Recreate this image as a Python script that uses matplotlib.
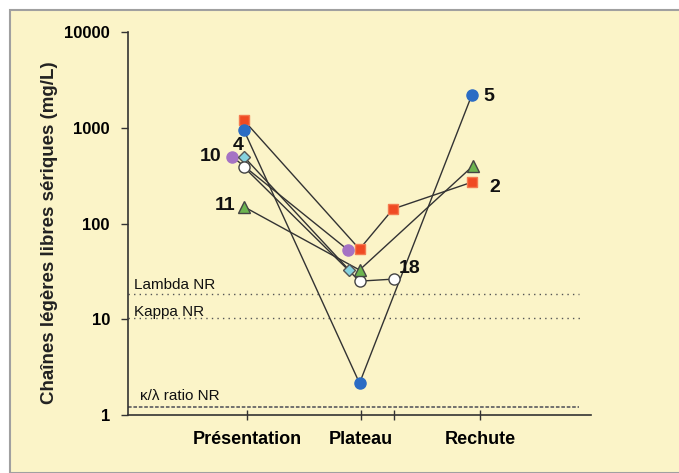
import matplotlib
matplotlib.use("Agg")
from matplotlib import pyplot as plt
from matplotlib.patches import Rectangle

plt.rcParams['font.family'] = ['Liberation Sans', 'DejaVu Sans']

categories = ["Présentation", "Plateau", "Rechute"]
cat_pos = [1.03, 2.01, 3.04]
extra_tick = 2.3

# patients: x positions (time) and free light chain values (mg/L)
p2_x = [1.0, 2.0, 2.29, 2.97]
p2_y = [1200, 54, 142, 270]
p5_x = [1.0, 2.0, 2.97]
p5_y = [950, 2.15, 2200]
p10_x = [0.9, 1.9]
p10_y = [500, 53]
p4_x = [1.0, 1.91]
p4_y = [500, 32.7]
p18_x = [1.0, 2.0, 2.3]
p18_y = [390, 25, 26.3]
p11_x = [1.0, 2.0, 2.98]
p11_y = [150, 32.7, 400]

lambda_nr = 18.4
kappa_nr = 10.3
ratio_nr = 1.21

bg = '#fbf4c8'

fig = plt.figure(figsize=(6.79, 4.73), dpi=100)
fig.patch.set_facecolor('white')
fig.patches.append(Rectangle((10 / 679, 0), 1, 1 - 10 / 473, transform=fig.transFigure,
                             facecolor=bg, edgecolor='#a0a0a0', linewidth=1.5, zorder=-10))

ax = fig.add_axes([0.1885, 0.1226, 0.682, 0.8097])
ax.set_facecolor('none')
ax.set_yscale('log')
ax.set_ylim(1, 10000)
ax.set_xlim(0, 4)

# reference lines
ax.axhline(lambda_nr, xmin=0, xmax=0.975, color='#555555', linestyle=(0, (1, 3)), linewidth=1)
ax.axhline(kappa_nr, xmin=0, xmax=0.98, color='#555555', linestyle=(0, (1, 3)), linewidth=1)
ax.axhline(ratio_nr, xmin=0, xmax=0.975, color='#666666', linestyle=(0, (2, 1)), linewidth=1.3)
ax.text(0.05, 20.5, "Lambda NR", fontsize=11, color='#111111')
ax.text(0.05, 10.8, "Kappa NR", fontsize=11, color='#111111')
ax.text(0.1, 1.45, "κ/λ ratio NR", fontsize=11, color='#111111')

lc = '#333333'
for xs, ys in [(p2_x, p2_y), (p5_x, p5_y), (p10_x, p10_y), (p4_x, p4_y), (p18_x, p18_y), (p11_x, p11_y)]:
    ax.plot(xs, ys, color=lc, linewidth=1, zorder=2)

ms = 8
ax.plot(p2_x, p2_y, 's', color='#f04a23', markeredgecolor='#f47a50', markersize=7.5, linestyle='none', zorder=3)
ax.plot(p5_x, p5_y, 'o', color='#2b6cc4', markeredgecolor='#2b6cc4', markersize=ms, linestyle='none', zorder=3)
ax.plot(p10_x, p10_y, 'o', color='#a573c4', markeredgecolor='#a573c4', markersize=ms, linestyle='none', zorder=3)
ax.plot(p4_x, p4_y, 'D', color='#86d2de', markeredgecolor='#555555', markersize=6.5, linestyle='none', zorder=3)
ax.plot(p18_x, p18_y, 'o', color='white', markeredgecolor='#444444', markersize=ms, linestyle='none', zorder=3)
ax.plot(p11_x, p11_y, '^', color='#6cb450', markeredgecolor='#444444', markersize=ms, linestyle='none', zorder=3)

# patient numbers
lab = dict(fontsize=14, fontweight='bold', color='#111111', va='center')
ax.text(0.71, 500, "10", ha='center', **lab)
ax.text(0.95, 650, "4", ha='center', **lab)
ax.text(0.84, 155, "11", ha='center', **lab)
ax.text(2.34, 34, "18", ha='left', **lab)
ax.text(3.07, 2100, "5", ha='left', **lab)
ax.text(3.12, 235, "2", ha='left', **lab)

ax.spines['top'].set_visible(False)
ax.spines['right'].set_visible(False)
ax.spines['left'].set_color('#333333')
ax.spines['bottom'].set_color('#333333')
ax.spines['left'].set_linewidth(1.2)
ax.spines['bottom'].set_linewidth(1.2)

ax.set_yticks([1, 10, 100, 1000, 10000])
ax.set_yticklabels(["1", "10", "100", "1000", "10000"], fontsize=12, fontweight='bold')
ax.minorticks_off()
ax.set_xticks(cat_pos + [extra_tick])
ax.set_xticklabels(categories + [""], fontsize=13, fontweight='bold')
ax.tick_params(axis='y', length=5, width=1, color='#333333', pad=8)
ax.tick_params(axis='x', length=7, width=1, color='#333333', pad=8, direction='inout')

fig.text(50 / 679, 1 - 233 / 473, "Chaînes légères libres sériques (mg/L)", rotation=90,
         fontsize=13.5, fontweight='bold', ha='center', va='center', color='#222222')

fig.savefig('out.png', dpi=100, facecolor=fig.get_facecolor())
